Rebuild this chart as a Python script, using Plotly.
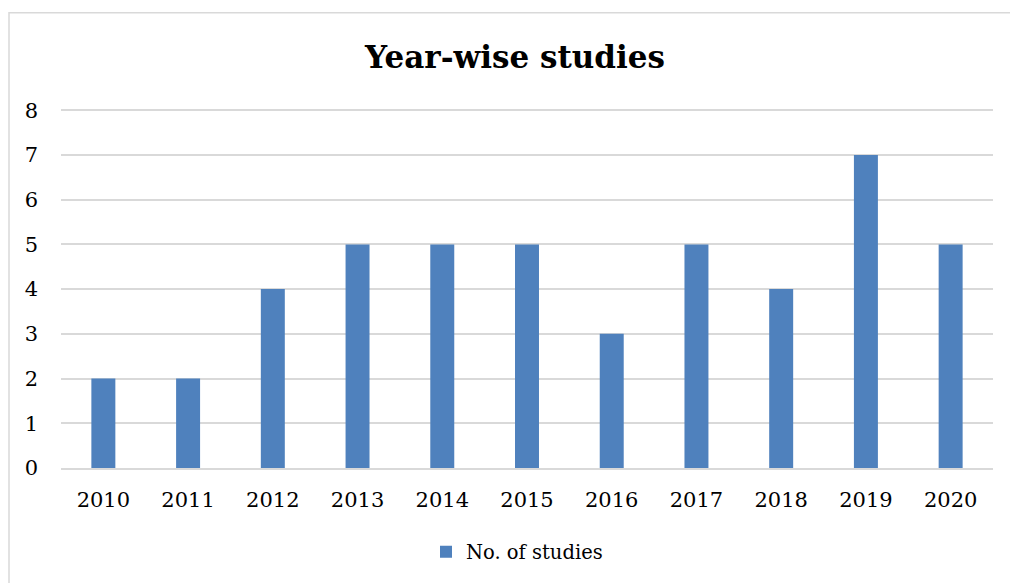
import plotly.graph_objects as go

years = ["2010", "2011", "2012", "2013", "2014", "2015", "2016", "2017", "2018", "2019", "2020"]
studies = [2, 2, 4, 5, 5, 5, 3, 5, 4, 7, 5]
y_ticks = [0, 1, 2, 3, 4, 5, 6, 7, 8]

FONT = "DejaVu Serif"
BAR = "#4F81BD"
GRID = "#D9D9D9"

fig = go.Figure()
fig.add_trace(go.Bar(x=years, y=studies, name="No. of studies", marker_color=BAR,
                     marker_line_width=0))

W, H = 1010, 583
YMAX = 8.05
L, R, B = 61, 17, 115
T = 110.5 - (YMAX - 8) * (468 - 110.5) / 8
pw, ph = W - L - R, H - T - B

fig.update_layout(
    width=W, height=H,
    margin=dict(l=L, r=R, t=T, b=B, pad=0),
    paper_bgcolor="white", plot_bgcolor="white",
    bargap=0.717,
    font=dict(family=FONT, color="#000000", size=20),
    title=dict(text="<b>Year-wise studies</b>", font=dict(family=FONT, size=31, color="#000000"),
               x=515 / W, xref="container", xanchor="center",
               y=1 - 57 / H, yref="container", yanchor="middle"),
    showlegend=True,
    legend=dict(orientation="h", x=(517 - L) / pw, xanchor="center",
                y=(H - B - 552) / ph, yanchor="middle",
                font=dict(family=FONT, size=19.5, color="#000000"),
                itemwidth=30),
    xaxis=dict(type="category", showgrid=False, showline=True, linecolor=GRID, linewidth=1.5,
               ticks="", tickfont=dict(family=FONT, size=21), ticklabelstandoff=12),
    yaxis=dict(range=[0, YMAX], tickvals=y_ticks, showgrid=True, gridcolor=GRID, gridwidth=1.5,
               zeroline=False, showline=False, ticks="",
               tickfont=dict(family=FONT, size=21), ticklabelstandoff=22),
    shapes=[dict(type="rect", xref="paper", yref="paper",
                 x0=(9 - L) / pw, x1=1.2, y0=-0.6, y1=(H - B - 13) / ph,
                 line=dict(color=GRID, width=1.5), fillcolor="rgba(0,0,0,0)", layer="below")],
)

fig.write_html("out.html")
